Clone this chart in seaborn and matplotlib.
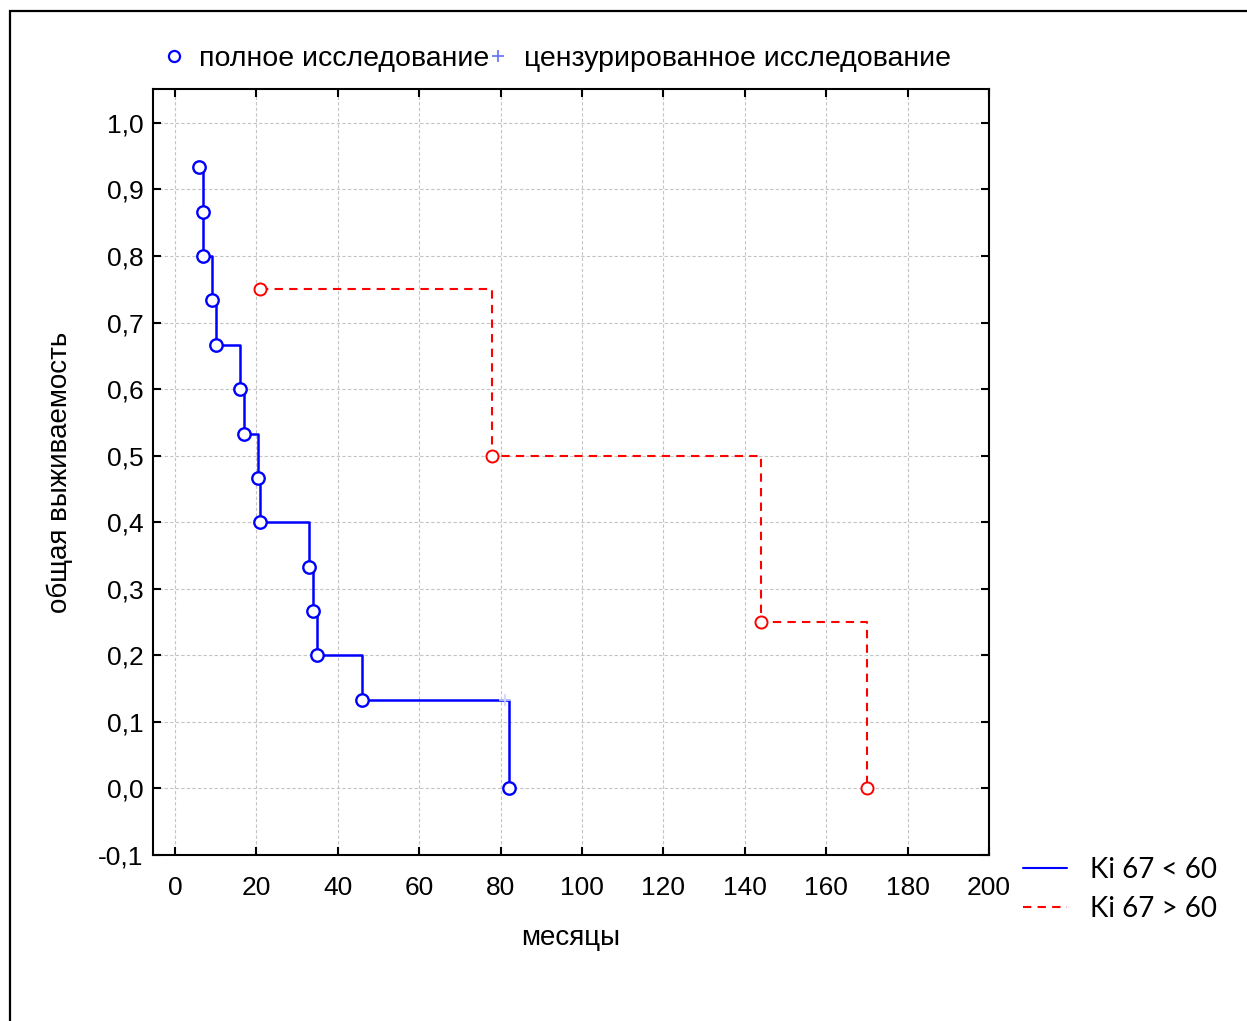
import matplotlib
matplotlib.use("Agg")
import matplotlib.pyplot as plt
from matplotlib.lines import Line2D
from matplotlib.patches import Rectangle
import seaborn as sns
import pandas as pd

# Ki 67 < 60 : event times (months) and survival
low_times = [6, 7, 7, 9, 10, 16, 17, 20.5, 21, 33, 34, 35, 46, 82]
low_surv = [0.9333, 0.8667, 0.8, 0.7333, 0.6667, 0.6, 0.5333, 0.4667, 0.4,
            0.3333, 0.2667, 0.2, 0.1333, 0.0]
low_censor_time = [81]
low_censor_surv = [0.1333]

# Ki 67 > 60
high_times = [21, 78, 144, 170]
high_surv = [0.75, 0.5, 0.25, 0.0]

x_ticks = [0, 20, 40, 60, 80, 100, 120, 140, 160, 180, 200]
y_ticks = [-0.1, 0.0, 0.1, 0.2, 0.3, 0.4, 0.5, 0.6, 0.7, 0.8, 0.9, 1.0]
y_ticklabels = ["-0,1", "0,0", "0,1", "0,2", "0,3", "0,4", "0,5", "0,6",
                "0,7", "0,8", "0,9", "1,0"]

sns.set_style("ticks")
plt.rcParams["font.family"] = ["Liberation Sans", "DejaVu Sans"]
plt.rcParams["text.color"] = "black"
plt.rcParams["axes.labelcolor"] = "black"

low = pd.DataFrame({"t": low_times, "s": low_surv})
high = pd.DataFrame({"t": high_times, "s": high_surv})

fig = plt.figure(figsize=(12.47, 10.21), dpi=100)
ax = fig.add_axes([153 / 1247, 1 - 855 / 1021, (989 - 153) / 1247, (855 - 89) / 1021])

sns.lineplot(data=low, x="t", y="s", estimator=None, sort=False, ax=ax,
             color="#0000ff", lw=1.8, drawstyle="steps-post")
sns.lineplot(data=high, x="t", y="s", estimator=None, sort=False, ax=ax,
             color="#ff0000", lw=1.5, drawstyle="steps-post")
ax.lines[-1].set_linestyle((0, (4, 3)))
sns.scatterplot(data=low, x="t", y="s", ax=ax, s=80, marker="o",
                facecolor="white", edgecolor="#0000ff", linewidth=1.7, zorder=3)
sns.scatterplot(data=high, x="t", y="s", ax=ax, s=75, marker="o",
                facecolor="white", edgecolor="#ff0000", linewidth=1.4, zorder=3)
ax.plot(low_censor_time, low_censor_surv, marker="+", ms=9, mew=1.2,
        color="#c8d4ff", ls="none", zorder=4)

ax.set_xlim(-5.4, 200)
ax.set_ylim(-0.1, 1.051)
ax.set_xticks(x_ticks)
ax.set_yticks(y_ticks)
ax.set_yticklabels(y_ticklabels)
ax.grid(True, color="#c4c4c4", ls=(0, (3, 2)), lw=0.8)
ax.tick_params(direction="in", length=6, width=1.5, top=True, right=True,
               labelsize=19, colors="black")
ax.tick_params(axis="x", pad=15)
ax.tick_params(axis="y", pad=7)
for sp in ax.spines.values():
    sp.set_linewidth(1.5)
    sp.set_color("black")
ax.set_xlabel("месяцы", fontsize=20, labelpad=18)
ax.set_ylabel("общая выживаемость", fontsize=20, labelpad=18)

# top legend (marker types)
top_handles = [
    Line2D([], [], marker="o", ls="none", ms=8, mfc="white", mec="#0000ff", mew=1.6),
    Line2D([], [], marker="+", ls="none", ms=9, mew=1.2, color="#6070ff"),
]
fig.legend(top_handles, ["полное исследование", "цензурированное исследование"],
           loc="center left", bbox_to_anchor=(165 / 1247, 1 - 59 / 1021), ncol=2,
           frameon=False, fontsize=20.5, handlelength=0.6, handletextpad=0.6,
           columnspacing=0.0, borderaxespad=0, borderpad=0)

# right legend (groups)
grp_handles = [
    Line2D([], [], color="#0000ff", lw=1.5),
    Line2D([], [], color="#ff0000", lw=1.5, ls=(0, (4, 3))),
]
fig.legend(grp_handles, ["Ki 67 < 60", "Ki 67 > 60"],
           loc="upper left", bbox_to_anchor=(1023 / 1247, 1 - 857 / 1021),
           frameon=False, prop={"family": ["Lato", "DejaVu Sans"], "size": 20},
           handlelength=1.6, handletextpad=0.8, labelspacing=0.45,
           borderaxespad=0, borderpad=0)

# outer frame
fig.add_artist(Rectangle((10 / 1247, -0.5), 2, 0.5 + 1 - 11 / 1021,
                         transform=fig.transFigure, fill=False, lw=1.6,
                         edgecolor="black", clip_on=False))

fig.savefig("out.png", dpi=100)
